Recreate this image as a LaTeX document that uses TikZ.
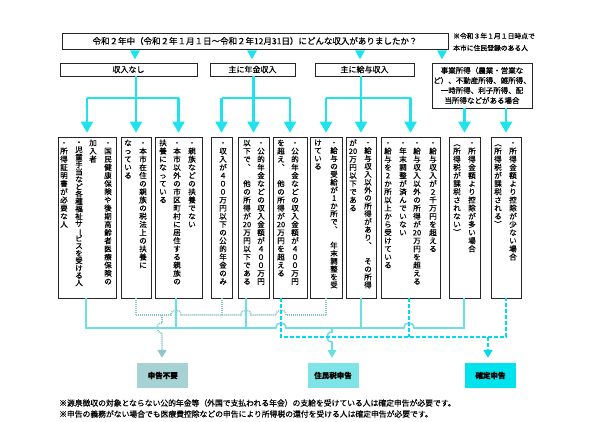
\documentclass[tikz,border=0pt]{standalone}
\usepackage{fontspec}
\setmainfont{Noto Sans CJK JP}[FakeBold=0.5]
\usepackage{graphicx}
\usetikzlibrary{arrows.meta}
\definecolor{topc}{HTML}{1EE3EE}
\definecolor{solc}{HTML}{6CDFE3}
\definecolor{dotc}{HTML}{8CC6C8}
\definecolor{dashc}{HTML}{00DCEB}
\definecolor{fa}{HTML}{A6D2D3}
\definecolor{fb}{HTML}{7EE4E6}
\definecolor{fc}{HTML}{00E3EC}
\makeatletter
\newdimen\vcp
\newdimen\vcw \vcw=9pt
\def\vc@end{}
\def\vc@endmark{\vc@end}
\def\vc@loop#1{\def\vc@test{#1}\ifx\vc@test\vc@endmark\expandafter\@gobble\else\expandafter\@firstofone\fi{\vc@cell{#1}\vc@loop}}
\def\vc@cell#1{\hbox to\vcw{\vrule height .8\vcp depth .2\vcp width 0pt\hss\smash{#1}\hss}}
\newcommand\vcolbox[2]{\vcp=#1pt\vbox{\offinterlineskip\vc@loop#2\vc@end}}
\makeatother
\newcommand\vchou{\rotatebox[origin=c]{-90}{ー}}
\begin{document}
\begin{tikzpicture}[x=1pt,y=-1pt,
  box/.style={draw=black!85, line width=0.6pt, fill=white, inner sep=0pt,
    preaction={fill=black!45, transform canvas={shift={(1.2pt,-1.2pt)}}}},
  tall/.style={box, minimum height=161pt},
  vt/.style={anchor=north, inner sep=0pt, font=\fontsize{7.5}{7.5}\selectfont},
  topl/.style={draw=topc, line width=2.2pt},
  toparr/.style={topl, -{Triangle[width=12pt,length=11pt]}, shorten >=4pt},
  soll/.style={draw=solc, line width=1.6pt},
  dotl/.style={draw=dotc, line width=1.6pt, dash pattern=on 1pt off 1pt},
  dashl/.style={draw=dashc, line width=1.6pt, dash pattern=on 4pt off 2pt},
  btip/.style={-{Triangle[width=9pt,length=8pt]}, shorten >=5pt},
  obox/.style={inner sep=0pt, minimum height=25pt, minimum width=51pt, font=\fontsize{7.5}{7.5}\selectfont\bfseries}
]
\useasboundingbox[fill=white] (0,0) rectangle (596,422);

% question
\node[box, minimum width=386pt, minimum height=16pt, font=\fontsize{8.5}{8.5}\selectfont] (q) at (255,41)
  {令和２年中（令和２年１月１日～令和２年12月31日）にどんな収入がありましたか？};
\node[anchor=west, inner sep=0pt, font=\fontsize{6.8}{6.8}\selectfont] (n1) at (453,36) {※令和３年１月１日時点で};
\node[anchor=west, inner sep=0pt, font=\fontsize{6.8}{6.8}\selectfont] (n2) at (453,48) {本市に住民登録のある人};

% categories
\node[box, minimum width=137pt, minimum height=13pt, font=\fontsize{8}{8}\selectfont] (k1) at (128.5,69.5) {収入なし};
\node[box, minimum width=85pt, minimum height=13pt, font=\fontsize{8}{8}\selectfont] (k2) at (252.5,69.5) {主に年金収入};
\node[box, minimum width=99pt, minimum height=13pt, font=\fontsize{8}{8}\selectfont] (k3) at (364.5,69.5) {主に給与収入};
\node[box, minimum width=100pt, minimum height=45pt, align=center, font=\fontsize{7.5}{10}\selectfont] (k4) at (482,85.5)
  {事業所得（農業・営業な\\ど）、不動産所得、雑所得、\\一時所得、利子所得、配\\当所得などがある場合};

\foreach \x in {135,252,360,442}
  \fill[topc] (q.south -| \x,0) ++(-5,1) -- ++(10,0) -- ++(-5,9) -- cycle;

% tall boxes
\node[tall, minimum width=58pt] (b1) at (87,217.5) {};
\node[tall, minimum width=30pt] (b2) at (136,217.5) {};
\node[tall, minimum width=47pt] (b3) at (178.5,217.5) {};
\node[tall, minimum width=21pt] (b4) at (221.5,217.5) {};
\node[tall, minimum width=31pt] (b5) at (253.5,217.5) {};
\node[tall, minimum width=34pt] (b6) at (290,217.5) {};
\node[tall, minimum width=32pt] (b7) at (326,217.5) {};
\node[tall, minimum width=30pt] (b8) at (361,217.5) {};
\node[tall, minimum width=59pt] (b9) at (410.5,217.5) {};
\node[tall, minimum width=31pt] (b10) at (464.5,217.5) {};
\node[tall, minimum width=30pt] (b11) at (506,217.5) {};

% top connectors
\coordinate (h) at (0,98);
\draw[topl] (k1.south -| b2.north) -- (b2.north |- h);
\draw[topl] (b1.north |- h) -- (b3.north |- h);
\foreach \b in {b1,b2,b3} \draw[toparr] (\b.north |- h) -- (\b.north);
\draw[topl] (k2.south -| b5.north) -- (b5.north |- h);
\draw[topl] (b4.north |- h) -- (b6.north |- h);
\foreach \b in {b4,b5,b6} \draw[toparr] (\b.north |- h) -- (\b.north);
\draw[topl] (k3.south -| b8.north) -- (b8.north |- h);
\draw[topl] (b7.north |- h) -- (b9.north |- h);
\foreach \b in {b7,b8,b9} \draw[toparr] (\b.north |- h) -- (\b.north);
\draw[toparr] (k4.south -| b10.north) -- (b10.north);
\draw[toparr] (k4.south -| b11.north) -- (b11.north);

% vertical texts
\node[vt] (c1a) at (108,139) {\vcolbox{8.15}{・国民健康保険や後期高齢者医療保険の}};
\node[vt] (c1b) at (93,139) {\vcolbox{8.15}{加入者}};
\node[vt] (c1c) at (79,139) {\vcolbox{7.4}{・児童手当など各種福祉サ{\vchou}ビスを受ける人}};
\node[vt] (c1d) at (64,139) {\vcolbox{8.15}{・所得証明書が必要な人}};
\node[vt] (c2a) at (143,139) {\vcolbox{8.15}{・本市在住の親族の税法上の扶養に}};
\node[vt] (c2b) at (128,139) {\vcolbox{8.15}{なっている}};
\node[vt] (c3a) at (192,139) {\vcolbox{8.15}{・親族などの扶養でない}};
\node[vt] (c3b) at (177,139) {\vcolbox{8.15}{・本市以外の市区町村に居住する親族の}};
\node[vt] (c3c) at (163,139) {\vcolbox{8.15}{扶養になっている}};
\node[vt] (c4a) at (223,139) {\vcolbox{8.15}{・収入が４００万円以下の公的年金のみ}};
\node[vt] (c5a) at (261,139) {\vcolbox{8.15}{・公的年金などの収入金額が４００万円}};
\node[vt] (c5b) at (247,139) {\vcolbox{8.15}{以下で︑{}他の所得が{20}万円以下である}};
\node[vt] (c6a) at (295,139) {\vcolbox{8.15}{・公的年金などの収入金額が４００万円}};
\node[vt] (c6b) at (281,139) {\vcolbox{8.15}{を超え︑{}他の所得が{20}万円を超える}};
\node[vt] (c7a) at (334,139) {\vcolbox{7.9}{・給与の受給が1か所で︑{}年末調整を受}};
\node[vt] (c7b) at (318,139) {\vcolbox{7.9}{けている}};
\node[vt] (c8a) at (368,139) {\vcolbox{7.9}{・給与収入以外の所得があり︑{}その所得}};
\node[vt] (c8b) at (353,139) {\vcolbox{8.15}{が{20}万円以下である}};
\node[vt] (c9a) at (433,139) {\vcolbox{8.15}{・給与収入が２千万円を超える}};
\node[vt] (c9b) at (417,139) {\vcolbox{8.15}{・給与収入以外の所得が{20}万円を超える}};
\node[vt] (c9c) at (403,139) {\vcolbox{8.15}{・年末調整が済んでいない}};
\node[vt] (c9d) at (388,139) {\vcolbox{8.15}{・給与を2か所以上から受けている}};
\node[vt] (c10a) at (472,139) {\vcolbox{8.15}{・所得金額より控除が多い場合}};
\node[vt] (c10b) at (457,139) {\vcolbox{8.15}{︵所得税が課税されない︶}};
\node[vt] (c11a) at (513,139) {\vcolbox{8.15}{・所得金額より控除が少ない場合}};
\node[vt] (c11b) at (498,139) {\vcolbox{8.15}{︵所得税が課税される︶}};

% outcomes
\node[obox, fill=fa] (o1) at (162.75,375.5) {申告不要};
\node[obox, fill=fb] (o2) at (333,375.5) {住民税申告};
\node[obox, fill=fc] (o3) at (490.5,375.5) {確定申告};

% bottom connectors: dotted (申告不要)
\coordinate (d2) at (136,298);
\coordinate (d4) at (222,298);
\coordinate (d7) at (326,298);
\draw[dotl] (d2) -- (136,315);
\draw[dotl] (d4) -- (222,315);
\draw[dotl] (d7) -- (326,315);
\draw[dotl] (136,315) -- (171,315) .. controls (171,308.3) and (181,308.3) .. (181,315)
  -- (241,315) .. controls (241,308.3) and (251,308.3) .. (251,315)
  -- (276,315) .. controls (276,308.3) and (286,308.3) .. (286,315) -- (326,315);
\draw[dotl, btip] (162,315) -- (162,323) .. controls (155.3,323) and (155.3,333) .. (162,333) -- (o1.north -| 162,0);

% solid (住民税申告)
\coordinate (s1) at (86,298);
\coordinate (s3) at (176,298);
\coordinate (s5) at (246,298);
\coordinate (s8) at (361,298);
\coordinate (s10) at (464,298);
\draw[soll] (s1) -- (86,328) -- (276,328) .. controls (276,321.3) and (286,321.3) .. (286,328)
  -- (404,328) .. controls (404,321.3) and (414,321.3) .. (414,328) -- (464,328) -- (s10);
\draw[soll] (s3) -- (176,328);
\draw[soll] (s5) -- (246,328);
\draw[soll] (s8) -- (361,328);
\draw[soll, btip] (332,328) -- (332,332) .. controls (325.3,332) and (325.3,342) .. (332,342) -- (o2.north -| 332,0);

% dashed (確定申告)
\coordinate (k6) at (281,298);
\coordinate (k9) at (409,298);
\coordinate (k11) at (506,298);
\draw[dashl] (k6) -- (281,337) -- (506,337) -- (k11);
\draw[dashl] (k9) -- (409,337);
\draw[dashl, btip] (488,337) -- (o3.north -| 488,0);

% footnotes
\node[anchor=west, inner sep=0pt, font=\fontsize{7.8}{7.8}\selectfont] (f1) at (59,403)
  {※源泉徴収の対象とならない公的年金等（外国で支払われる年金）の支給を受けている人は確定申告が必要です。};
\node[anchor=west, inner sep=0pt, font=\fontsize{7.8}{7.8}\selectfont] (f2) at (59,414)
  {※申告の義務がない場合でも医療費控除などの申告により所得税の還付を受ける人は確定申告が必要です。};
\end{tikzpicture}
\end{document}
